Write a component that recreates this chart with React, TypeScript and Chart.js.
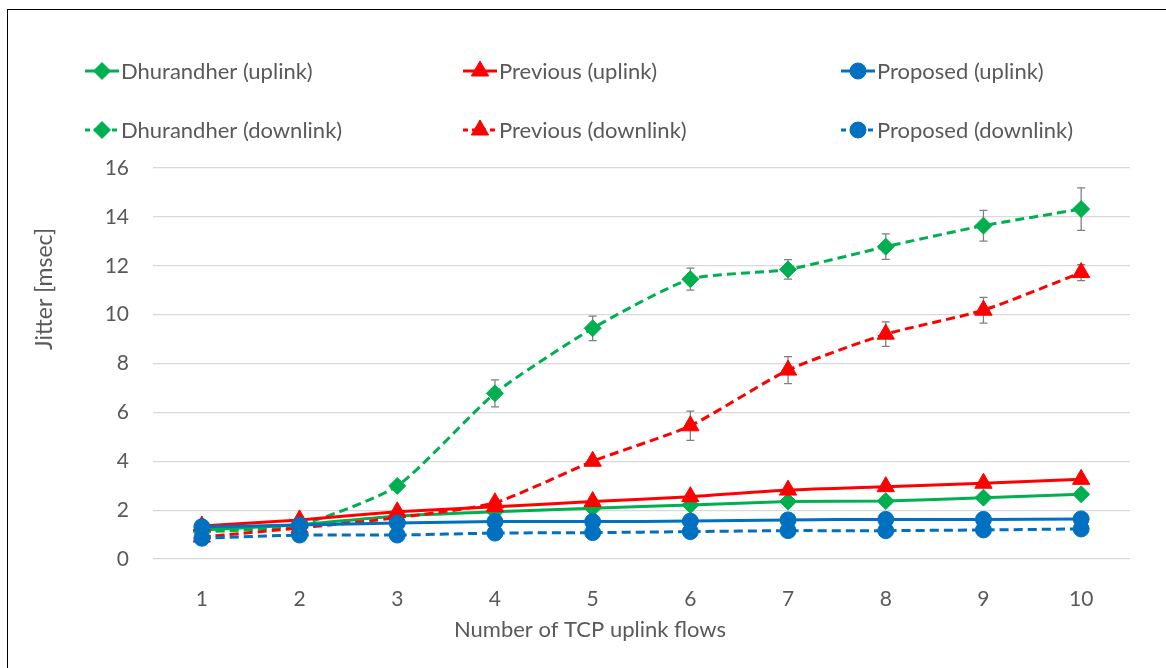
import React, { useEffect, useRef } from "react";
import { Chart, registerables } from "chart.js";

Chart.register(...registerables);

// ---------- data ----------
const categories = ["1", "2", "3", "4", "5", "6", "7", "8", "9", "10"];

const dhurandherUplink = [1.19, 1.4, 1.76, 1.93, 2.08, 2.21, 2.35, 2.37, 2.51, 2.65];
const dhurandherDownlink = [1.1, 1.4, 2.99, 6.78, 9.44, 11.45, 11.85, 12.78, 13.64, 14.32];
const previousUplink = [1.35, 1.6, 1.93, 2.14, 2.35, 2.55, 2.82, 2.96, 3.1, 3.26];
const previousDownlink = [0.9, 1.27, 1.69, 2.3, 4.0, 5.45, 7.73, 9.2, 10.18, 11.72];
const proposedUplink = [1.32, 1.39, 1.47, 1.53, 1.53, 1.55, 1.6, 1.62, 1.62, 1.64];
const proposedDownlink = [0.85, 0.98, 0.98, 1.06, 1.08, 1.12, 1.16, 1.16, 1.19, 1.23];

const errDhurandherDownlink = [0, 0, 0, 0.55, 0.5, 0.45, 0.4, 0.52, 0.63, 0.87];
const errPreviousDownlink = [0, 0, 0, 0, 0, 0.6, 0.55, 0.5, 0.53, 0.33];

const yTitle = "Jitter [msec]";
const xTitle = "Number of TCP uplink flows";

// ---------- styles ----------
const GREEN = "#00B050";
const RED = "#FF0000";
const BLUE = "#0070C0";
const TEXT = "#595959";
const GRID = "#D9D9D9";
const FONT = "Lato, 'Open Sans', sans-serif";
const DASH = [9, 5];

type Meta = { col: number; row: number; radius: number };

function drawMarker(ctx: CanvasRenderingContext2D, style: string, x: number, y: number, r: number) {
  ctx.beginPath();
  if (style === "circle") {
    ctx.arc(x, y, r, 0, Math.PI * 2);
  } else if (style === "triangle") {
    let rad = 0;
    ctx.moveTo(x + Math.sin(rad) * r, y - Math.cos(rad) * r);
    rad += (2 * Math.PI) / 3;
    ctx.lineTo(x + Math.sin(rad) * r, y - Math.cos(rad) * r);
    rad += (2 * Math.PI) / 3;
    ctx.lineTo(x + Math.sin(rad) * r, y - Math.cos(rad) * r);
  } else {
    ctx.moveTo(x - r, y);
    ctx.lineTo(x, y - r);
    ctx.lineTo(x + r, y);
    ctx.lineTo(x, y + r);
  }
  ctx.closePath();
  ctx.fill();
  ctx.stroke();
}

const legendPlugin = {
  id: "customLegend",
  afterDraw(chart: any) {
    const ctx = chart.ctx as CanvasRenderingContext2D;
    const cols = [94, 472, 850];
    const rows = [61, 120];
    chart.data.datasets.forEach((ds: any) => {
      const m: Meta = ds.legendMeta;
      const cx = cols[m.col];
      const cy = rows[m.row];
      ctx.save();
      ctx.strokeStyle = ds.borderColor;
      ctx.lineWidth = ds.borderWidth;
      ctx.setLineDash(ds.borderDash && ds.borderDash.length ? [5, 4] : []);
      ctx.beginPath();
      ctx.moveTo(cx - 17, cy);
      ctx.lineTo(cx + 17, cy);
      ctx.stroke();
      ctx.setLineDash([]);
      ctx.fillStyle = ds.borderColor;
      ctx.lineWidth = 1;
      drawMarker(ctx, ds.pointStyle, cx, cy, m.radius);
      ctx.fillStyle = TEXT;
      ctx.font = `22px ${FONT}`;
      ctx.textBaseline = "middle";
      ctx.textAlign = "left";
      ctx.fillText(ds.label, cx + 19, cy + 1);
      ctx.restore();
    });
  },
};

const titlesPlugin = {
  id: "axisTitles",
  afterDraw(chart: any) {
    const ctx = chart.ctx as CanvasRenderingContext2D;
    ctx.save();
    ctx.fillStyle = TEXT;
    ctx.font = `22px ${FONT}`;
    ctx.textAlign = "center";
    ctx.textBaseline = "middle";
    ctx.fillText(xTitle, 582, 620);
    ctx.font = `23px ${FONT}`;
    ctx.translate(37, 279);
    ctx.rotate(-Math.PI / 2);
    ctx.fillText(yTitle, 0, 0);
    ctx.restore();
  },
};

const errorBarPlugin = {
  id: "errorBars",
  beforeDatasetsDraw(chart: any) {
    const ctx = chart.ctx as CanvasRenderingContext2D;
    const yScale = chart.scales.y;
    chart.data.datasets.forEach((ds: any, di: number) => {
      if (!ds.errors) return;
      const meta = chart.getDatasetMeta(di);
      ctx.save();
      ctx.strokeStyle = "#7F7F7F";
      ctx.lineWidth = 1.25;
      meta.data.forEach((pt: any, i: number) => {
        const e = ds.errors[i];
        if (!e) return;
        const v = ds.data[i];
        const x = pt.x;
        const y1 = yScale.getPixelForValue(v + e);
        const y2 = yScale.getPixelForValue(v - e);
        ctx.beginPath();
        ctx.moveTo(x, y1);
        ctx.lineTo(x, y2);
        ctx.moveTo(x - 4, y1);
        ctx.lineTo(x + 4, y1);
        ctx.moveTo(x - 4, y2);
        ctx.lineTo(x + 4, y2);
        ctx.stroke();
      });
      ctx.restore();
    });
  },
};

function makeDs(
  label: string,
  data: number[],
  color: string,
  pointStyle: string,
  radius: number,
  dashed: boolean,
  col: number,
  row: number,
  errors?: number[]
) {
  return {
    label,
    data,
    borderColor: color,
    backgroundColor: color,
    pointBackgroundColor: color,
    pointBorderColor: color,
    pointBorderWidth: 1,
    pointStyle,
    pointRadius: radius,
    borderWidth: 3,
    borderDash: dashed ? DASH : [],
    tension: 0.2,
    fill: false,
    errors,
    legendMeta: { col, row, radius },
  };
}

export default function App() {
  const canvasRef = useRef<HTMLCanvasElement | null>(null);

  useEffect(() => {
    if (!canvasRef.current) return;
    const datasets: any[] = [
      makeDs("Proposed (uplink)", proposedUplink, BLUE, "circle", 8, false, 2, 0),
      makeDs("Proposed (downlink)", proposedDownlink, BLUE, "circle", 8, true, 2, 1),
      makeDs("Previous (uplink)", previousUplink, RED, "triangle", 10, false, 1, 0),
      makeDs("Previous (downlink)", previousDownlink, RED, "triangle", 10, true, 1, 1, errPreviousDownlink),
      makeDs("Dhurandher (uplink)", dhurandherUplink, GREEN, "rectRot", 8.5, false, 0, 0),
      makeDs("Dhurandher (downlink)", dhurandherDownlink, GREEN, "rectRot", 8.5, true, 0, 1, errDhurandherDownlink),
    ];
    const chart = new Chart(canvasRef.current, {
      type: "line",
      data: { labels: categories, datasets },
      options: {
        animation: false,
        responsive: true,
        maintainAspectRatio: false,
        layout: { padding: { top: 158, right: 36, left: 0, bottom: 0 } },
        plugins: {
          legend: { display: false },
          tooltip: { enabled: false },
        },
        scales: {
          x: {
            type: "category",
            offset: true,
            grid: { display: false },
            border: { display: false },
            ticks: { color: TEXT, font: { family: FONT, size: 21 }, padding: 20, maxRotation: 0 },
            afterFit: (s: any) => {
              s.height = 109;
            },
          },
          y: {
            min: 0,
            max: 16,
            ticks: { stepSize: 2, color: TEXT, font: { family: FONT, size: 21 }, padding: 24 },
            grid: { color: GRID, lineWidth: 1.25, drawTicks: false },
            border: { display: false },
            afterFit: (s: any) => {
              s.width = 145;
            },
          },
        },
      } as any,
      plugins: [errorBarPlugin, legendPlugin, titlesPlugin],
    });
    return () => chart.destroy();
  }, []);

  return (
    <div
      style={{
        position: "fixed",
        left: 7,
        top: 9,
        width: 1159,
        height: 659,
        boxSizing: "border-box",
        borderTop: "1px solid #000",
        borderLeft: "1px solid #000",
        background: "#fff",
      }}
    >
      <canvas ref={canvasRef} />
    </div>
  );
}
